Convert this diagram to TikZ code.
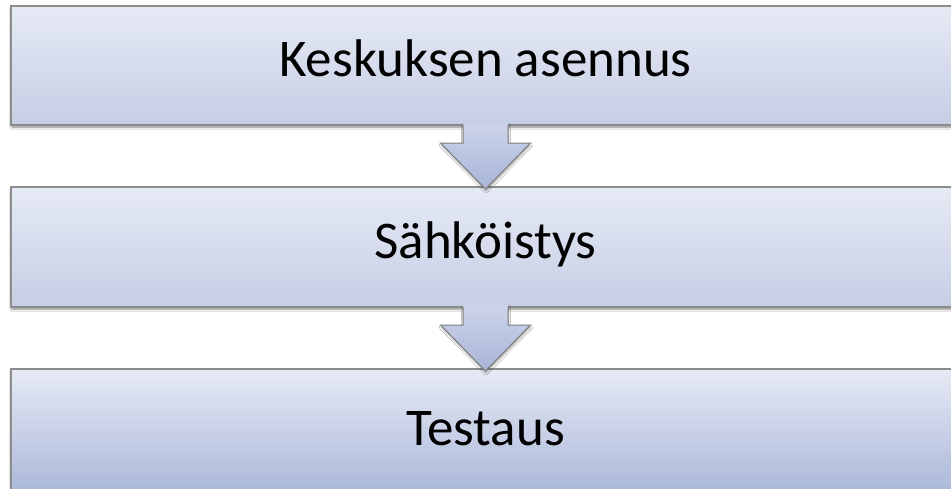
\documentclass[tikz,border=0pt]{standalone}
\usepackage{fontspec}
\setmainfont{Carlito}
\usetikzlibrary{calc,shadows.blur}

\definecolor{boxtop}{HTML}{E6EAF5}
\definecolor{boxbot}{HTML}{C6CEE5}
\definecolor{boxbotdeep}{HTML}{A9B6D8}
\definecolor{arrowtop}{HTML}{CDD4EA}
\definecolor{arrowbot}{HTML}{A8B5D8}
\definecolor{edgegray}{HTML}{8C8C8C}

\tikzset{
  stagebox/.style={
    rectangle, draw=edgegray, line width=1.3pt,
    top color=boxtop, bottom color=#1,
    minimum width=949pt, inner sep=0pt, outer sep=0pt,
    text depth=0pt,
    font=\fontsize{53}{62}\selectfont,
    blur shadow={shadow xshift=0.8pt, shadow yshift=-2.2pt,
                 shadow blur radius=2pt, shadow opacity=45}
  },
  arrowbody/.style={
    top color=arrowtop, bottom color=arrowbot,
    blur shadow={shadow xshift=0.6pt, shadow yshift=-2pt,
                 shadow blur radius=2pt, shadow opacity=35}
  },
  arrowedge/.style={draw=edgegray!90!black, line width=1pt, line join=miter}
}

% block arrow hanging below the box named #1
\newcommand\stagearrow[1]{%
  \path[arrowbody]
    ($(#1.south)+(-22.5,-2)$) -- ($(#1.south)+(-22.5,18)$)
    -- ($(#1.south)+(-45,18)$) -- ($(#1.south)+(0,64)$)
    -- ($(#1.south)+(45,18)$) -- ($(#1.south)+(22.5,18)$)
    -- ($(#1.south)+(22.5,-2)$) -- cycle;
  \draw[arrowedge]
    ($(#1.south)+(-22.5,0)$) -- ($(#1.south)+(-22.5,18)$)
    -- ($(#1.south)+(-45,18)$) -- ($(#1.south)+(0,64)$)
    -- ($(#1.south)+(45,18)$) -- ($(#1.south)+(22.5,18)$)
    -- ($(#1.south)+(22.5,0)$);
}

\begin{document}
\begin{tikzpicture}[x=1pt,y=-1pt]
  \useasboundingbox (0,0) rectangle (951,488);
  \clip (0,0) rectangle (951,488);
  \fill[white] (0,0) rectangle (951,488);

  \node[stagebox=boxbot, minimum height=119pt, text height=21pt]
    (mount) at (485.5,65.5) {Keskuksen asennus};
  \node[stagebox=boxbot, minimum height=120pt, text height=23pt]
    (wiring) at (485.5,247) {Sähköistys};
  \node[stagebox=boxbotdeep, minimum height=128pt, text height=24pt]
    (test) at (485.5,433) {Testaus};

  \stagearrow{mount}
  \stagearrow{wiring}
\end{tikzpicture}
\end{document}
